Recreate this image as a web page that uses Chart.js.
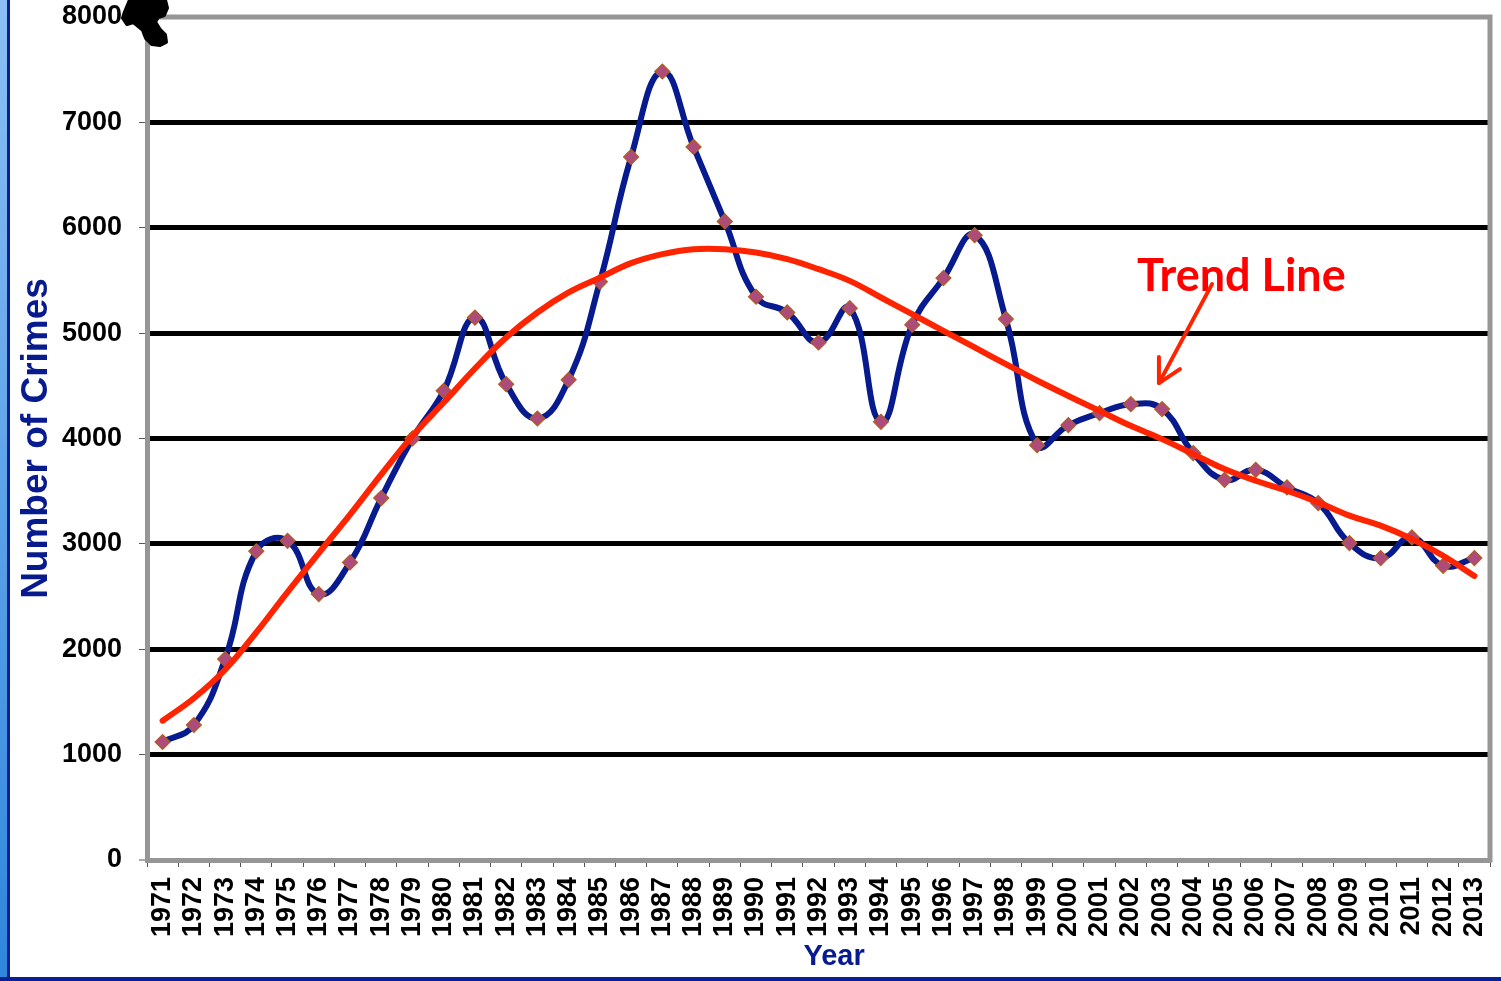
<!DOCTYPE html>
<html>
<head>
<meta charset="utf-8">
<script src="https://cdn.jsdelivr.net/npm/chart.js@4/dist/chart.umd.min.js"></script>
<style>
html,body{margin:0;padding:0;background:#fff;}
#wrap{position:relative;width:1501px;height:981px;overflow:hidden;}
canvas{display:block;}
</style>
</head>
<body>
<div id="wrap"><canvas id="c" width="1501" height="981"></canvas></div>
<script>
// data
const years=["1971","1972","1973","1974","1975","1976","1977","1978","1979","1980","1981","1982","1983","1984","1985","1986","1987","1988","1989","1990","1991","1992","1993","1994","1995","1996","1997","1998","1999","2000","2001","2002","2003","2004","2005","2006","2007","2008","2009","2010","2011","2012","2013"];
const crimes=[1120,1281,1907,2930,3029,2524,2824,3435,4001,4453,5148,4516,4190,4557,5487,6672,7483,6767,6060,5345,5196,4911,5237,4158,5079,5522,5930,5133,3937,4127,4241,4326,4279,3861,3608,3703,3536,3387,3008,2865,3061,2792,2865];
const trend=[1322,1535,1805,2160,2543,2913,3278,3659,4025,4341,4664,4959,5196,5386,5526,5664,5750,5797,5797,5765,5702,5607,5496,5338,5180,5022,4864,4706,4550,4404,4262,4120,3994,3852,3710,3599,3504,3394,3268,3173,3046,2887,2696];
const yTicks=[0,1000,2000,3000,4000,5000,6000,7000,8000];

const NAVY="#071a8e";
const RED="#ff2400";

// ink blob outline, relative to the top-left corner of the frame
const blob=[[-17,-17],[-22,-5],[-24,1],[-20,7],[-14,5],[-10,8],[-4,13],[-1,21],[5,27],[13,28],[19,25],[18,18],[13,13],[8,5],[11,0],[17,-2],[20,-9],[18,-17]];

// frame, page border, blob, x title and the "Trend Line" note
const extras={
  id:"extras",
  afterDraw(chart){
    const c=chart.ctx, a=chart.chartArea, W=chart.width, H=chart.height;
    const xs=chart.scales.x, ys=chart.scales.y;
    c.save();
    // grey frame top + right
    c.strokeStyle="#969696"; c.lineWidth=5; c.lineCap="square";
    c.beginPath(); c.moveTo(a.left,a.top); c.lineTo(a.right,a.top); c.lineTo(a.right,a.bottom); c.stroke();
    // blue page border
    const g=c.createLinearGradient(0,0,0,H); g.addColorStop(0,"#8cc0f4"); g.addColorStop(1,"#2f86dc");
    c.fillStyle=g; c.fillRect(0,0,7,H);
    c.fillStyle="#0a1f96"; c.fillRect(7,0,3,H); c.fillRect(0,H-4,W,4);
    // black ink blob in the corner
    c.fillStyle="#000"; c.strokeStyle="#000"; c.lineWidth=4; c.lineJoin="round";
    c.beginPath();
    blob.forEach((p,i)=>{const px=a.left+p[0],py=a.top+p[1]; i?c.lineTo(px,py):c.moveTo(px,py);});
    c.closePath(); c.fill(); c.stroke();
    // x axis title
    c.fillStyle=NAVY; c.font="bold 29px 'Liberation Sans'"; c.textAlign="center"; c.textBaseline="middle";
    c.fillText("Year",xs.getPixelForValue(21.5),957);
    // Trend Line label
    c.fillStyle="#ff0000"; c.font="bold 45px Lato"; c.textBaseline="alphabetic"; c.textAlign="left";
    c.fillText("Trend Line",xs.getPixelForValue(31.2),ys.getPixelForValue(5398));
    // arrow
    const x1=xs.getPixelForValue(33.6), y1=ys.getPixelForValue(5465);
    const x2=xs.getPixelForValue(31.9), y2=ys.getPixelForValue(4526);
    c.strokeStyle=RED; c.lineWidth=4; c.lineCap="round"; c.lineJoin="round";
    c.beginPath(); c.moveTo(x1,y1); c.lineTo(x2,y2); c.stroke();
    c.beginPath(); c.moveTo(x2,y2-26); c.lineTo(x2,y2); c.lineTo(x2+21,y2-14); c.stroke();
    c.restore();
  }
};

function noPad(s){s.paddingTop=0;s.paddingBottom=0;s.paddingLeft=0;s.paddingRight=0;}

new Chart(document.getElementById("c"),{
  type:"line",
  data:{
    labels:years,
    datasets:[
      {label:"Trend",data:trend,borderColor:RED,borderWidth:6,pointRadius:0,tension:0.4,order:0,borderCapStyle:"round"},
      {label:"Crimes",data:crimes,borderColor:NAVY,borderWidth:6,tension:0.45,order:1,
       pointStyle:"rectRot",pointRadius:7.5,pointBackgroundColor:"#ad4c7c",pointBorderColor:"#b35d1c",pointBorderWidth:1.2}
    ]
  },
  options:{
    responsive:false,animation:false,
    layout:{padding:{left:12,top:17,right:11,bottom:4}},
    plugins:{legend:{display:false},tooltip:{enabled:false}},
    scales:{
      x:{
        offset:true,
        afterFit(s){s.height=117;noPad(s);},
        grid:{drawOnChartArea:false,offset:true,tickLength:7,tickColor:"#555",tickWidth:1},
        border:{color:"#969696",width:5},
        ticks:{color:"#000",font:{family:"Liberation Sans",weight:"bold",size:27,lineHeight:1},minRotation:90,maxRotation:90,padding:10,autoSkip:false}
      },
      y:{
        min:0,max:8000,
        afterFit(s){s.width=135;noPad(s);},
        afterBuildTicks(s){s.ticks=yTicks.map(v=>({value:v}));},
        grid:{color:"#000",lineWidth:ctx=>(ctx.tick&&(ctx.tick.value===0||ctx.tick.value===8000))?0:5,tickLength:8,tickColor:"#555",tickWidth:1},
        border:{color:"#969696",width:5},
        ticks:{color:"#000",font:{family:"Liberation Sans",weight:"bold",size:27,lineHeight:1},padding:17,callback:v=>String(v)},
        title:{display:true,text:"Number of Crimes",color:NAVY,font:{family:"Liberation Sans",weight:"bold",size:37,lineHeight:1.2},padding:{top:3,bottom:0}}
      }
    }
  },
  plugins:[extras]
});
</script>
</body>
</html>
